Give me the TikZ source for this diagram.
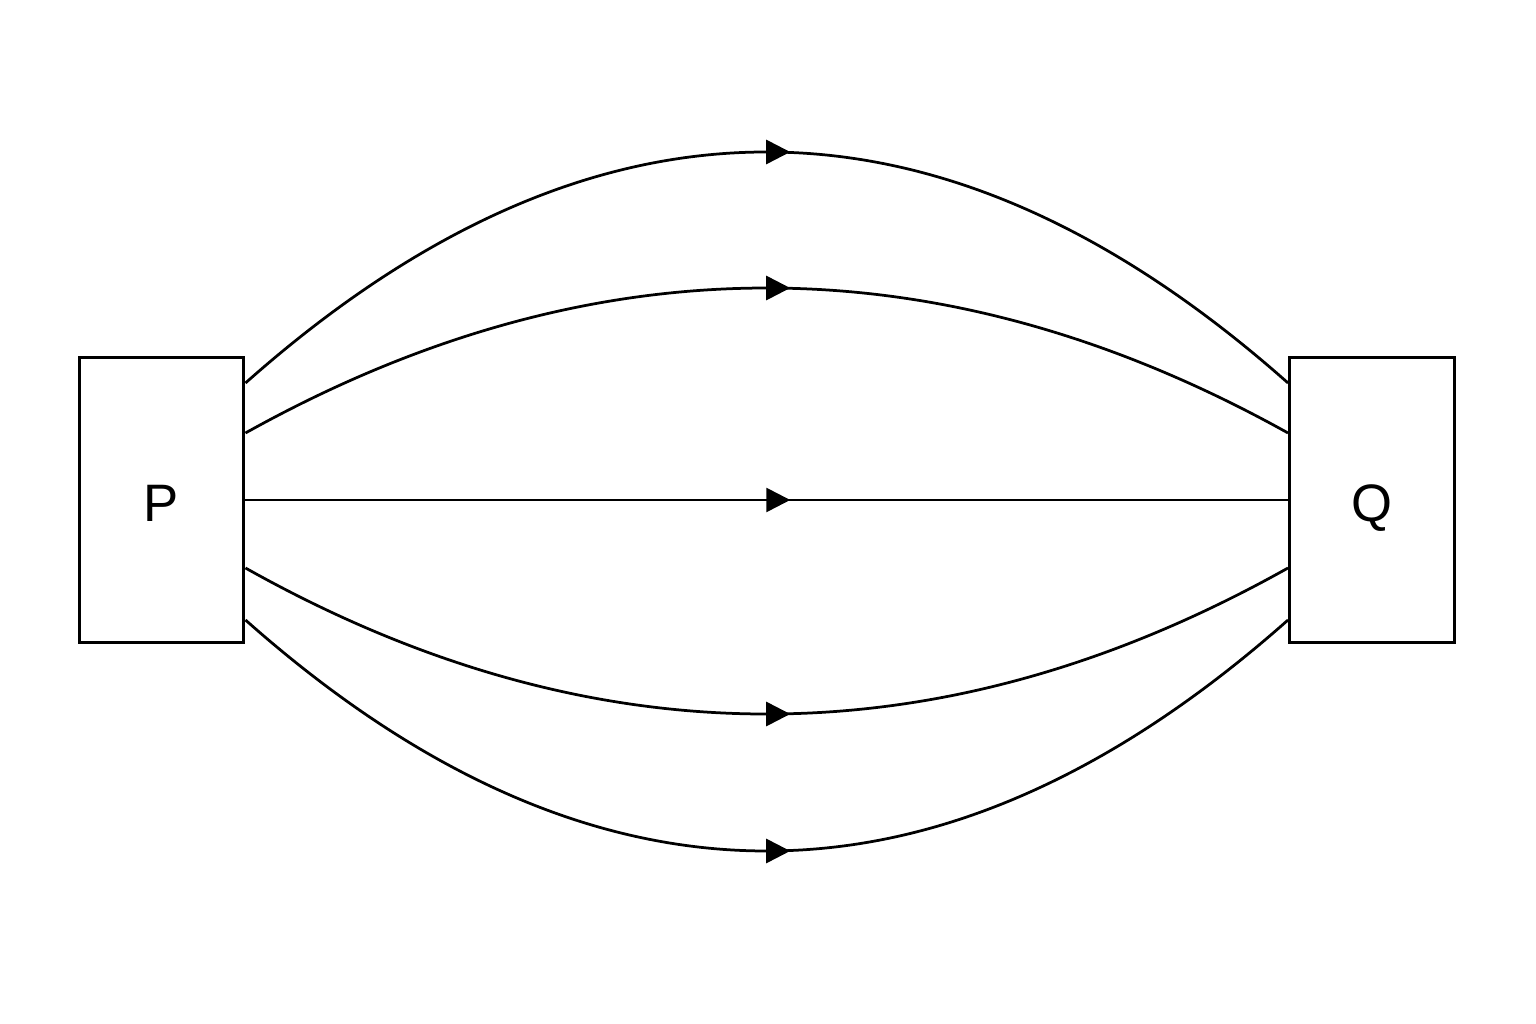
\documentclass[tikz,border=0pt]{standalone}
\usepackage{fontspec}
\setmainfont{Liberation Sans}
\usetikzlibrary{arrows.meta,decorations.markings,calc}
\begin{document}
\begin{tikzpicture}[x=0.02cm,y=0.02cm,
  boxnode/.style={draw=black,line width=0.06cm,minimum width=3.3cm,minimum height=5.72cm,inner sep=0pt,text height=0.9cm,text depth=0.02cm,font=\fontsize{30}{36}\selectfont},
  flow/.style={draw=black,line width=0.055cm,postaction={decorate},
    decoration={markings,mark=at position 0.5 with {\arrow[xshift=0.47cm]{Triangle[length=0.48cm,width=0.48cm]}}}}]
\useasboundingbox (0,0) rectangle (1536,1024);
\node[boxnode] (P) at (161.5,524) {P};
\node[boxnode] (Q) at (1372,524) {Q};
\draw[flow] ($(P.east)+(0,117)$) .. controls (592.3,949) and (940.7,949) .. ($(Q.west)+(0,117)$);
\draw[flow] ($(P.east)+(0,67)$) .. controls (592.3,784.3) and (940.7,784.3) .. ($(Q.west)+(0,67)$);
\draw[flow] (P.east) -- (Q.west);
\draw[flow] ($(P.east)+(0,-68)$) .. controls (592.3,261.3) and (940.7,261.3) .. ($(Q.west)+(0,-68)$);
\draw[flow] ($(P.east)+(0,-120)$) .. controls (592.3,96) and (940.7,96) .. ($(Q.west)+(0,-120)$);
\end{tikzpicture}
\end{document}
